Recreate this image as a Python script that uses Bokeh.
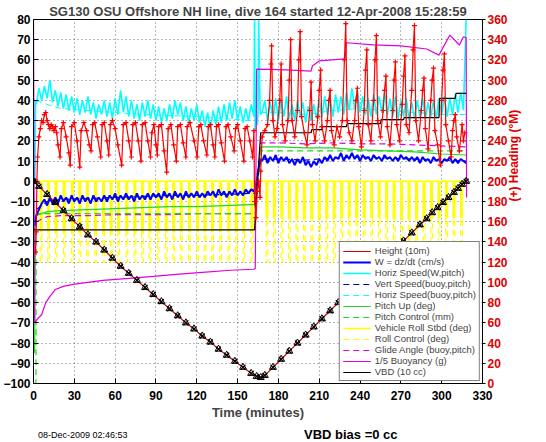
import math
import numpy as np
from bokeh.plotting import figure
from bokeh.models import (Range1d, LinearAxis, FixedTicker, Legend, LegendItem,
                          Div)
from bokeh.layouts import column
from bokeh.embed import file_html
from bokeh.resources import INLINE

FONT = "Liberation Sans"

TITLE = "SG130 OSU Offshore NH line, dive 164 started 12-Apr-2008 15:28:59"
FOOT_LEFT = "08-Dec-2009 02:46:53"
FOOT_RIGHT = "VBD bias =0 cc"
X_TICKS = list(range(0, 331, 30))
Y_TICKS = list(range(-100, 81, 10))
HDG_TICKS = list(range(0, 361, 20))

# ---- time grids (minutes) ----
desc_t = list(range(2, 163, 2))     # descent samples
asc_t = list(range(168, 319, 2))    # ascent samples

# ---- Horiz Speed(W,pitch) (cm/s), cyan ----
hspd_start_t = [1.0, 1.5]
hspd_start = [0, 40]
hspd_desc = [38, 46, 40, 47, 41, 50, 39, 45, 37, 44,
             36, 43, 35, 42, 34, 41, 33, 40, 34, 42,
             33, 39, 31, 38, 33, 40, 32, 39, 31, 41,
             33, 45, 34, 42, 32, 40, 31, 38, 30, 39,
             32, 40, 31, 38, 30, 37, 29, 36, 30, 38,
             31, 40, 33, 39, 30, 37, 29, 36, 30, 38,
             29, 35, 27, 34, 25, 35, 28, 37, 29, 38,
             30, 39, 31, 40, 30, 37, 29, 36, 30, 38,
             32]
hspd_apo_t = [162.5, 163, 163.5, 164.5, 165, 165.5, 166.5, 167]
hspd_apo = [80, 25, 30, 28, 34, 80, 36, 33]
hspd_asc = [34, 40, 30, 39, 31, 41, 30, 40, 32, 42,
            31, 38, 30, 40, 32, 39, 29, 37, 30, 38,
            31, 40, 32, 42, 33, 41, 32, 43, 34, 42,
            33, 44, 35, 46, 36, 45, 34, 42, 33, 41,
            32, 43, 33, 42, 34, 44, 33, 41, 32, 42,
            31, 40, 32, 41, 30, 39, 31, 40, 32, 41,
            31, 39, 32, 40, 31, 41, 33, 42, 32, 41,
            33, 43, 34, 44, 35, 80]

# ---- W = dz/dt (cm/s), blue ----
w_start_t = [1.0, 1.5]
w_start = [-22, -18]
w_desc = [-17, -14, -11, -9, -12, -8, -11, -8, -11, -7,
          -10, -8, -11, -7, -10, -8, -11, -7, -10, -8,
          -11, -7, -10, -8, -10, -7, -10, -7, -9, -6,
          -10, -7, -9, -6, -9, -7, -10, -6, -9, -7,
          -9, -6, -9, -6, -8, -6, -9, -5, -8, -6,
          -9, -5, -8, -6, -9, -5, -8, -6, -8, -5,
          -8, -6, -8, -5, -7, -5, -8, -4, -7, -5,
          -8, -5, -7, -4, -7, -5, -7, -4, -6, -4,
          -5]
w_apo_t = [163, 164, 165, 166, 167]
w_apo = [-3, 0, 5, 8, 11]
w_asc = [10, 13, 9, 12, 10, 13, 9, 12, 10, 12,
         9, 11, 8, 11, 9, 12, 8, 10, 7, 10,
         8, 11, 9, 12, 10, 13, 10, 12, 11, 14,
         10, 13, 11, 14, 11, 13, 10, 13, 11, 12,
         10, 13, 11, 12, 10, 13, 11, 12, 10, 12,
         10, 13, 11, 12, 10, 12, 10, 12, 9, 12,
         10, 11, 9, 12, 10, 11, 9, 11, 10, 12,
         9, 11, 9, 11, 10, 9]

# ---- smoother model / attitude series ----
smooth_t = [2, 10, 20, 40, 60, 80, 100, 120, 140, 160, 163,
            167, 180, 200, 220, 240, 260, 280, 300, 318]
vert_buoy = [-14, -10, -9, -8.5, -8, -7.5, -7, -7, -6.5, -6, -6,
             11, 11, 10.5, 11.5, 12, 11.5, 11, 10.5, 10]
horiz_buoy = [40, 38, 36, 35, 34, 33, 32.5, 32, 31, 30, 30,
              34, 34, 33, 35, 36, 35, 34, 33, 33]
pitch_start_t = [0.8, 1.0, 1.5]
pitch_start = [-85, -70, -20]
pitch = [-17, -15, -14.5, -14, -13.5, -13, -12.5, -12.5, -12, -11.5, -11.5,
         17, 17, 16.5, 16.5, 15.5, 15, 14.5, 13.5, 13]
pitch_ctl_start_t = [0.5, 1.8]
pitch_ctl_start = [-100, -100]
pitch_ctl = [-16, -16, -16, -16, -16, -16, -16, -16, -16, -16, -16,
             15, 15, 15, 15, 15, 15, 15, 15, 15]
glide = [-20, -17.5, -17, -17, -16.5, -16.5, -16.5, -16, -16, -16, -16,
         19, 19, 18.5, 19, 18.5, 18.5, 18, 17.5, 17]

# ---- 1/5 Buoyancy (g), magenta ----
buoy_t = [0, 0.8, 3, 6, 9, 12, 16, 22, 29, 40, 51, 70, 88, 105, 124, 145,
          162, 163, 164, 175, 190, 204, 205, 210, 229, 230, 250, 270, 289,
          298, 306, 313, 316, 318, 318.3]
buoy = [80, -70, -68, -66, -60, -57, -53.5, -52, -51, -50, -49, -48, -47,
        -46, -45, -44, -43.5, -43, 55.5, 55.3, 55, 54.5, 57, 59.5, 60.5,
        68.5, 67.5, 67, 65.4, 62.4, 72.3, 67.4, 71.5, 71, -8]

# ---- VBD (10 cc), black ----
vbd_t = [0, 162.5, 163.5, 167, 204, 204.5, 212, 212.5, 230, 230.5, 255,
         255.5, 272, 272.5, 298, 298.5, 310, 310.5, 318]
vbd = [-24, -24, -11, 24, 24, 25.5, 25.5, 27, 27, 28.5, 28.5,
       30.5, 30.5, 31.5, 31.5, 41, 41, 43.5, 43.5]

# ---- Height (10 m): depth / -10 ----
depth_t = [0, 4, 10, 16, 22, 28, 34, 40, 46, 52,
           58, 64, 70, 76, 82, 88, 94, 100, 106, 112,
           118, 124, 130, 136, 142, 148, 154, 160, 164, 167,
           170, 176, 182, 188, 194, 200, 206, 212, 218, 224,
           230, 236, 242, 248, 254, 260, 266, 272, 278, 284,
           289, 293, 297, 301, 305, 309, 312, 315, 318]
height = [0, -2.5, -6.5, -10.5, -14.5, -18.5, -22.5, -26.5, -30, -34,
          -38, -42, -45.5, -49, -52.5, -56, -59.5, -63, -66.5, -70,
          -73, -76.5, -79.5, -83, -86, -89, -92, -95, -96.5, -97,
          -96, -92, -88, -84, -80, -76, -72, -68, -64, -60,
          -56, -52.5, -48.5, -44.5, -41, -37, -33, -29.5, -25.5, -21.5,
          -18.5, -15.5, -13, -10.5, -8, -5.5, -3.5, -1.5, 0]

# ---- roll manoeuvres: pulse start times (minutes) and depths (deg) ----
roll_pulses = [5, 10.5, 16, 22, 28, 33.5, 39, 45, 51, 56.5, 62, 68, 74, 79.5,
               85, 91, 97, 102.5, 108, 114, 120, 125.5, 131, 137, 143, 148.5,
               154, 160,
               171, 176.5, 182, 187.5, 193, 198.5, 204, 209.5, 215, 220.5,
               226, 231.5, 237, 242.5, 248, 253.5, 259, 264.5, 270, 275.5,
               281, 286.5, 292, 297.5, 303, 308.5, 314]
roll_depth_desc = -25
roll_depth_asc = -18
roll_ctl_depth = -40

# ---- (+) Heading (deg M) ----
heading = [(1.5, 130), (2, 150), (2.5, 200), (3, 224), (4, 244), (5, 252),
           (6, 260), (7, 258), (8, 266), (9, 268), (10, 260), (11, 256),
           (12, 252), (13, 256), (14, 254), (15, 250), (16, 254), (17, 248),
           (18, 236), (19.5, 224), (20.5, 252), (22, 258), (24, 244),
           (26, 228), (27, 216), (28, 254), (30, 258), (32, 240), (34, 214),
           (35, 250), (37, 258), (39, 250), (41, 236), (42.3, 230),
           (43.5, 256), (45, 258), (47, 244), (49.4, 224), (50.5, 256),
           (52, 258), (54, 240), (55.3, 226), (56.5, 256), (58, 260),
           (60, 252), (62, 236), (64.8, 216), (66, 256), (68, 258),
           (70, 240), (71.9, 224), (73, 256), (75, 258), (77, 240),
           (79, 220), (80, 256), (82, 258), (84, 240), (86, 224), (87, 248),
           (88.5, 256), (90, 236), (91, 226), (92, 254), (94, 256),
           (96, 230), (97.9, 209), (99, 252), (101, 256), (103, 236),
           (105, 220), (106, 254), (108, 256), (110, 238), (112, 224),
           (113, 254), (115, 258), (118, 240), (120.3, 224), (121.5, 254),
           (123, 256), (125, 240), (127.4, 226), (128.5, 254), (130, 256),
           (132, 236), (133.3, 224), (134.5, 254), (136, 256), (138, 238),
           (140.4, 220), (141.5, 254), (143, 256), (145, 244), (147.5, 230),
           (148.5, 252), (150, 256), (152, 240), (154.6, 220), (155.5, 252),
           (157, 254), (159, 240), (161, 224), (162, 250),
           (162.5, 180), (163.5, 164), (164.5, 190), (165.5, 200),
           (166.5, 184), (167, 210),
           (168, 244), (170, 250), (172, 256), (173.5, 280), (174.5, 316),
           (175, 334), (176, 260), (177.5, 244), (179, 252), (181, 280),
           (182, 316), (183, 256), (185, 240), (187, 260), (188, 300),
           (189, 340), (190, 260), (192, 244), (194, 270), (195, 320),
           (196, 348), (197, 264), (199, 248), (201, 236), (203, 270),
           (204, 298), (205, 256), (207, 240), (209, 264), (210, 290),
           (211, 310), (212, 254), (214, 240), (216, 260), (217, 280),
           (218, 290), (219, 250), (221, 236), (223, 254), (225, 244),
           (227, 260), (228.5, 320), (229.5, 356), (230.5, 260), (232, 248),
           (234, 240), (236, 260), (237, 280), (238, 292), (239, 254),
           (241, 234), (243, 270), (244, 310), (245, 330), (246, 256),
           (248, 240), (250, 280), (251, 320), (252, 344), (253, 260),
           (255, 244), (257, 270), (258, 290), (259, 304), (260, 254),
           (262, 236), (264, 270), (265, 300), (266, 318), (267, 256),
           (269, 240), (271, 276), (272, 304), (273, 324), (274, 256),
           (276, 248), (278, 290), (279, 330), (280, 354), (281, 260),
           (283, 240), (285, 270), (286, 290), (287, 302), (288, 252),
           (290, 232), (292, 280), (293, 300), (294, 312), (295, 250),
           (297, 236), (299, 216), (300, 280), (301, 310), (302, 326),
           (303, 256), (305, 240), (307, 224), (308, 250), (309, 260),
           (310, 266), (311, 244), (313, 230), (315, 256), (316, 240),
           (317, 248)]

LEGEND_LABELS = ["Height (10m)", "W = dz/dt (cm/s)", "Horiz Speed(W,pitch)",
                 "Vert Speed(buoy,pitch)", "Horiz Speed(buoy,pitch)",
                 "Pitch Up (deg)", "Pitch Control (mm)",
                 "Vehicle Roll Stbd (deg)", "Roll Control (deg)",
                 "Glide Angle (buoy,pitch)", "1/5 Buoyancy (g)", "VBD (10 cc)"]

# ---------------------------------------------------------------------------
RED, BLUE, CYAN, GREEN = "#ff0000", "#0000ff", "#00ffff", "#1fd81f"
YELLOW, MAGENTA = "#ffff00", "#e000e0"
DASH = "6 4"


def build_pulses(starts, width, d_desc, d_asc, t0, t1):
    xs, ys = [t0], [0]
    for s in starts:
        d = d_desc if s < 165 else d_asc
        xs += [s, s, s + width, s + width]
        ys += [0, d, d, 0]
    xs.append(t1)
    ys.append(0)
    return xs, ys


p = figure(width=530, height=422, x_range=Range1d(0, 330),
           y_range=Range1d(-100, 80), output_backend="svg",
           toolbar_location=None, min_border_left=24, min_border_right=0,
           min_border_top=0, min_border_bottom=0, title=TITLE)
p.extra_y_ranges = {"hdg": Range1d(0, 360)}
p.background_fill_color = "white"
p.border_fill_color = "white"
p.outline_line_color = "black"
p.outline_line_width = 1
p.outline_line_alpha = 1

p.title.text_font = FONT
p.title.text_font_size = "13px"
p.title.text_font_style = "bold"
p.title.align = "center"
p.title.standoff = 2
p.title.offset = 0

for ax in (p.xaxis[0], p.yaxis[0]):
    ax.major_label_text_font = FONT
    ax.major_label_text_font_size = "12px"
    ax.major_label_text_font_style = "bold"
    ax.major_label_text_color = "black"
    ax.major_tick_in = 5
    ax.major_tick_out = 0
    ax.minor_tick_line_color = None
    ax.axis_line_color = "black"
p.yaxis[0].major_label_standoff = 3
p.xaxis[0].major_label_standoff = 7
p.xaxis[0].ticker = FixedTicker(ticks=X_TICKS)
p.yaxis[0].ticker = FixedTicker(ticks=Y_TICKS)
p.xaxis[0].axis_label = "Time (minutes)"
p.xaxis[0].axis_label_text_font = FONT
p.xaxis[0].axis_label_text_font_size = "13px"
p.xaxis[0].axis_label_text_font_style = "bold"
p.xaxis[0].axis_label_standoff = 2

raxis = LinearAxis(y_range_name="hdg", ticker=FixedTicker(ticks=HDG_TICKS),
                   axis_label="(+) Heading (°M)")
raxis.major_label_text_font = FONT
raxis.major_label_text_font_size = "12px"
raxis.major_label_text_font_style = "bold"
raxis.major_label_text_color = "#e00000"
raxis.major_tick_in = 0
raxis.major_tick_out = 3
raxis.minor_tick_line_color = None
raxis.major_label_standoff = 2
raxis.axis_label_text_font = FONT
raxis.axis_label_text_font_size = "12px"
raxis.axis_label_text_font_style = "bold"
raxis.axis_label_text_color = "#e00000"
raxis.axis_label_standoff = 3
raxis.axis_label_orientation = math.pi / 2
p.add_layout(raxis, "right")

p.grid.grid_line_color = "#000000"
p.grid.grid_line_alpha = 0.55
p.grid.grid_line_dash = "1 3"
p.grid.grid_line_width = 1

# ---- data assembly ----
roll_x, roll_y = build_pulses(roll_pulses, 1.0, roll_depth_desc,
                              roll_depth_asc, 1.5, 318)
rollc_x, rollc_y = build_pulses(roll_pulses, 1.2, roll_ctl_depth,
                                roll_ctl_depth, 1.5, 318)

hspd_t = hspd_start_t + desc_t + hspd_apo_t + asc_t
hspd = hspd_start + hspd_desc + hspd_apo + hspd_asc
w_t = w_start_t + desc_t + w_apo_t + asc_t
w = w_start + w_desc + w_apo + w_asc

hd_t = [h[0] for h in heading]
hd = [h[1] for h in heading]

# ---- glyphs (drawn bottom to top) ----
r_rollc = p.line(rollc_x, rollc_y, line_color=YELLOW, line_width=1.2,
                 line_dash=DASH)
r_roll = p.line(roll_x, roll_y, line_color=YELLOW, line_width=1.5)
r_hb = p.line(smooth_t, horiz_buoy, line_color=CYAN, line_width=1,
              line_dash=DASH)
r_hs = p.line(hspd_t, hspd, line_color=CYAN, line_width=1.6)
r_glide = p.line(smooth_t, glide, line_color=MAGENTA, line_width=1.2,
                 line_dash=DASH)
r_pctl = p.line(pitch_ctl_start_t + smooth_t, pitch_ctl_start + pitch_ctl,
                line_color=GREEN, line_width=1.2, line_dash=DASH)
r_pitch = p.line(pitch_start_t + smooth_t, pitch_start + pitch,
                 line_color=GREEN, line_width=1.2)
r_vb = p.line(smooth_t, vert_buoy, line_color="#0000b0", line_width=1.2,
              line_dash=DASH)
r_w = p.line(w_t, w, line_color=BLUE, line_width=2)
r_buoy = p.line(buoy_t, buoy, line_color=MAGENTA, line_width=1.2)
r_vbd = p.line(vbd_t, vbd, line_color="black", line_width=1.2)
p.line(hd_t, hd, line_color=RED, line_width=1.2, y_range_name="hdg")
p.scatter(hd_t, hd, marker="cross", size=5, line_color=RED, line_width=1.2,
          y_range_name="hdg")
r_height = p.line(depth_t, height, line_color="#d00000", line_width=1.2)
p.scatter(depth_t, height, marker="x", size=7, line_color="black",
          line_width=1.3)
p.scatter(depth_t, height, marker="triangle", size=7, line_color="black",
          fill_color=None, line_width=1)

renderers = [r_height, r_w, r_hs, r_vb, r_hb, r_pitch, r_pctl, r_roll,
             r_rollc, r_glide, r_buoy, r_vbd]
legend = Legend(items=[LegendItem(label=lab, renderers=[r])
                       for lab, r in zip(LEGEND_LABELS, renderers)],
                location="bottom_right")
legend.margin = 2
legend.padding = 3
legend.spacing = 0
legend.glyph_width = 28
legend.glyph_height = 10
legend.label_height = 10
legend.label_standoff = 4
legend.label_text_font = FONT
legend.label_text_font_size = "9.5px"
legend.border_line_color = "black"
legend.border_line_width = 1
legend.background_fill_color = "white"
legend.background_fill_alpha = 1
p.add_layout(legend)

footer = Div(
    text=("<div style=\"position:relative;width:530px;height:4px;"
          "overflow:visible;"
          "font-family:'Liberation Sans',Arial,sans-serif;color:#000;\">"
          "<span style=\"position:absolute;left:38px;top:0px;font-size:9px;"
          "line-height:10px;white-space:nowrap;\">" + FOOT_LEFT + "</span>"
          "<span style=\"position:absolute;left:304px;top:-2px;"
          "font-size:13px;line-height:13px;font-weight:bold;"
          "white-space:nowrap;\">" + FOOT_RIGHT + "</span></div>"),
    width=530, height=4, margin=0, styles={"overflow": "visible"})

layout = column(p, footer, spacing=0)
open("out.html", "w").write(file_html(layout, INLINE))
